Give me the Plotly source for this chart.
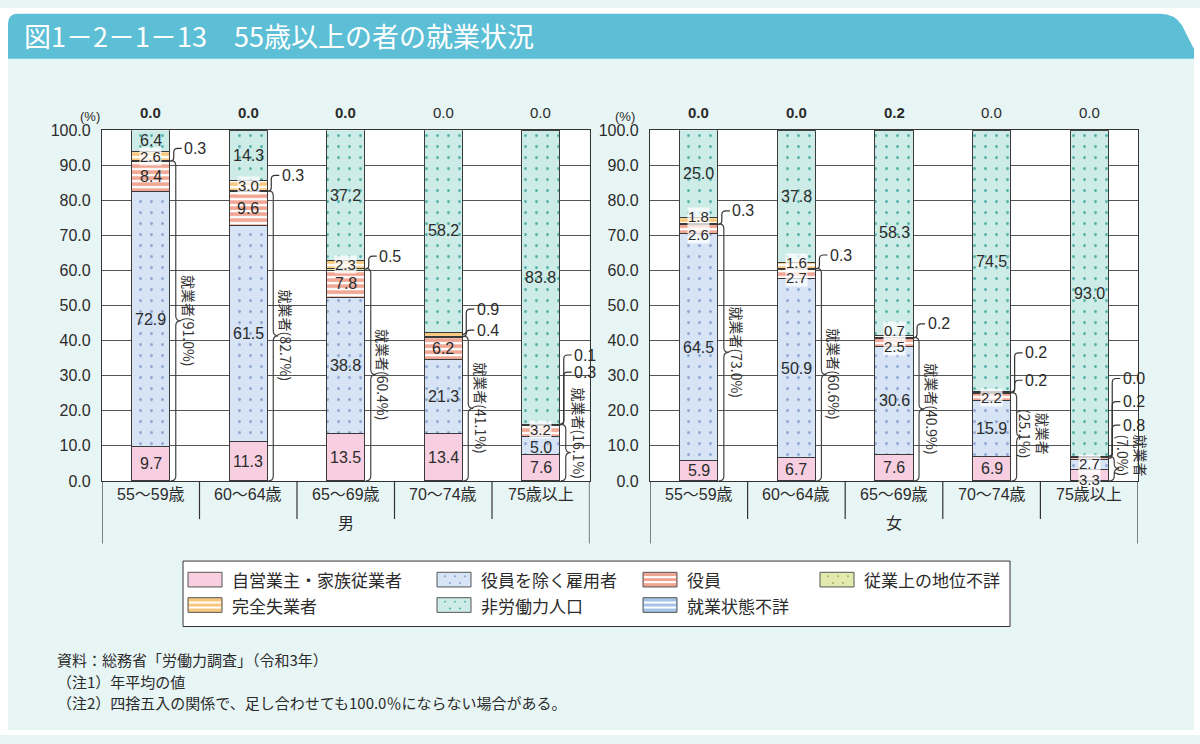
import plotly.graph_objects as go

W, H = 1200, 744

# ---------------- data ----------------
categories = ["55～59歳", "60～64歳", "65～69歳", "70～74歳", "75歳以上"]
series_names = ["自営業主・家族従業者", "役員を除く雇用者", "役員", "従業上の地位不詳",
                "完全失業者", "非労働力人口", "就業状態不詳"]

men_self_employed = [9.7, 11.3, 13.5, 13.4, 7.6]
men_employee = [72.9, 61.5, 38.8, 21.3, 5.0]
men_officer = [8.4, 9.6, 7.8, 6.2, 3.2]
men_status_unknown = [0.3, 0.3, 0.5, 0.4, 0.3]
men_unemployed = [2.6, 3.0, 2.3, 0.9, 0.1]
men_not_in_labor = [6.4, 14.3, 37.2, 58.2, 83.8]
men_labor_unknown = [0.0, 0.0, 0.0, 0.0, 0.0]
men_employed_total = [91.0, 82.7, 60.4, 41.1, 16.1]

women_self_employed = [5.9, 6.7, 7.6, 6.9, 3.3]
women_employee = [64.5, 50.9, 30.6, 15.9, 2.7]
women_officer = [2.6, 2.7, 2.5, 2.2, 0.8]
women_status_unknown = [0.3, 0.3, 0.2, 0.2, 0.2]
women_unemployed = [1.8, 1.6, 0.7, 0.2, 0.0]
women_not_in_labor = [25.0, 37.8, 58.3, 74.5, 93.0]
women_labor_unknown = [0.0, 0.0, 0.2, 0.0, 0.0]
women_employed_total = [73.0, 60.6, 40.9, 25.1, 7.0]

y_ticks = [0, 10, 20, 30, 40, 50, 60, 70, 80, 90, 100]

men = [men_self_employed, men_employee, men_officer, men_status_unknown,
       men_unemployed, men_not_in_labor, men_labor_unknown]
women = [women_self_employed, women_employee, women_officer, women_status_unknown,
         women_unemployed, women_not_in_labor, women_labor_unknown]

# ---------------- styles / layout placement ----------------
series_style = [
    dict(color="#f7cfe0", shape="", fg=None, size=8, sol=0.1),
    dict(color="#d6e4f5", shape=".", fg="#8aa3d1", size=11, sol=0.05),
    dict(color="#f0a492", shape="-", fg="#ffffff", size=6, sol=0.4),
    dict(color="#e3eab0", shape=".", fg="#a3b35a", size=11, sol=0.05),
    dict(color="#f7c77e", shape="-", fg="#ffffff", size=6, sol=0.4),
    dict(color="#cdebe7", shape=".", fg="#4fb0a6", size=11, sol=0.05),
    dict(color="#a6c4e8", shape="-", fg="#ffffff", size=6, sol=0.4),
]

FONT = "Liberation Sans, Noto Sans CJK JP, sans-serif"
JFONT = "Noto Sans CJK JP, sans-serif"
TXT = "#2b2b2b"
LINE = "#3a3a3a"

PLOT_TOP, PLOT_BOT = 125, 484
BAR_W = 0.39

outside_label_y = [
    {(0, 3): 94.8, (1, 3): 87.1, (2, 3): 64.1, (3, 3): 43.0, (3, 4): 49.0,
     (4, 3): 31.0, (4, 4): 35.9},
    {(0, 3): 77.0, (1, 3): 64.4, (2, 3): 44.8, (3, 3): 28.7, (3, 4): 36.5,
     (4, 2): 15.9, (4, 3): 22.6, (4, 4): 29.2},
]
inside_shift = [{(4, 2): 2, (4, 1): -2},
                {(2, 2): -4, (2, 4): 6, (0, 2): -5, (0, 4): 4,
                 (1, 2): -3, (1, 4): 3, (4, 0): -4, (4, 1): 1}]
brace_two_line = [{}, {3: 13.5, 4: 7.2}]

panels = [
    dict(data=men, totals=men_employed_total, sex="男", x0=102, x1=589.5,
         xa="x", ya="y", pct_x=78),
    dict(data=women, totals=women_employed_total, sex="女", x0=650, x1=1138,
         xa="x2", ya="y2", pct_x=625),
]


def px(x):
    return x / W


def py(y):
    return 1 - y / H


fig = go.Figure()
annotations = []
shapes = []

# background pieces (paper is mint)
for (a, b, c, d) in [(0, 0, W, 52), (0, 0, 8, H), (1194, 0, W, H), (0, 739, W, H)]:
    shapes.append(dict(type="rect", xref="paper", yref="paper", x0=px(a), x1=px(c),
                       y0=py(d), y1=py(b), fillcolor="white", line=dict(width=0), layer="below"))

# title bar
pts = "M {},{} L {},{} Q {},{} {},{} L {},{} Q {},{} {},{} L {},{} L {},{} Z".format(
    px(8), py(52), px(8), py(16), px(8), py(6), px(18), py(6),
    px(1160), py(6), px(1175), py(6), px(1182), py(18),
    px(1194), py(42), px(1194), py(52))
shapes.append(dict(type="path", xref="paper", yref="paper", path=pts,
                   fillcolor="#5cbfd6", line=dict(width=0), layer="below"))
annotations.append(dict(text="図1－2－1－13　55歳以上の者の就業状況", xref="paper", yref="paper",
                        x=px(22), y=py(28), xanchor="left", yanchor="middle", showarrow=False,
                        font=dict(family=JFONT, size=27, color="white")))

layout_axes = {}
for p_i, p in enumerate(panels):
    ux = (p["x1"] - p["x0"]) / 5.0
    uy = (PLOT_BOT - PLOT_TOP) / 100.0
    xa, ya = p["xa"], p["ya"]
    xs = list(range(len(categories)))

    for s_i, vals in enumerate(p["data"]):
        st = series_style[s_i]
        marker = dict(color=st["color"], line=dict(color=LINE, width=1))
        if st["shape"]:
            marker["pattern"] = dict(shape=st["shape"], fgcolor=st["fg"], bgcolor=st["color"],
                                     size=st["size"], solidity=st["sol"], fillmode="replace")
        fig.add_trace(go.Bar(x=xs, y=vals, width=BAR_W, marker=marker, xaxis=xa, yaxis=ya,
                             name=series_names[s_i], showlegend=False, hoverinfo="skip"))

    for i in xs:
        xr = i + BAR_W / 2
        cum = 0.0
        for s_i, vals in enumerate(p["data"]):
            v = vals[i]
            center = cum + v / 2
            key = (i, s_i)
            if s_i == 6:
                txt = f"{v:.1f}"
                if i < 3:
                    txt = f"<b>{txt}</b>"
                annotations.append(dict(text=txt, x=i, y=100, xref=xa, yref=ya, yanchor="bottom",
                                        yshift=7, showarrow=False,
                                        font=dict(family=FONT, size=15, color=TXT)))
            elif key in outside_label_y[p_i]:
                yL = outside_label_y[p_i][key]
                xv = xr + 4 / ux
                r = min(4 / uy, abs(yL - center) / 2)
                path = (f"M {xr},{center} Q {xv},{center} {xv},{center + r} "
                        f"L {xv},{yL - r} Q {xv},{yL} {xv + 4 / ux},{yL} L {xr + 12 / ux},{yL}")
                shapes.append(dict(type="path", xref=xa, yref=ya, path=path,
                                   line=dict(color="#333", width=1.2)))
                annotations.append(dict(text=f"{v:.1f}", x=xr + 12.5 / ux, y=yL, xref=xa, yref=ya,
                                        xanchor="left", yanchor="middle", showarrow=False,
                                        font=dict(family=FONT, size=16, color=TXT)))
            elif v > 0:
                small = v < 4
                a = dict(text=f"{v:.1f}", x=i, y=center, xref=xa, yref=ya, showarrow=False,
                         yshift=inside_shift[p_i].get(key, 0),
                         font=dict(family=FONT, size=15 if small else 16, color=TXT))
                if small:
                    a["bgcolor"] = "rgba(255,255,255,0.75)"
                    a["borderpad"] = 0
                annotations.append(a)
            cum += v

        # brace for employed persons
        top = sum(p["data"][k][i] for k in range(4))
        xb = xr + 1 / ux
        w = 5 / ux
        t = 5 / ux
        r = min(5 / uy, top / 4)
        mid = top / 2
        xw = xb + w
        bpath = (f"M {xb},{top} Q {xw},{top} {xw},{top - r} L {xw},{mid + r} "
                 f"Q {xw},{mid} {xw + t},{mid} Q {xw},{mid} {xw},{mid - r} "
                 f"L {xw},{r} Q {xw},0 {xb},0")
        shapes.append(dict(type="path", xref=xa, yref=ya, path=bpath,
                           line=dict(color="#444", width=1.2)))
        tot = p["totals"][i]
        if i in brace_two_line[p_i]:
            btxt = f"就業者<br>({tot:.1f}%)"
            by = brace_two_line[p_i][i]
            bx = xr + 24 / ux
        else:
            btxt = f"就業者({tot:.1f}%)"
            by = max(mid, 13.6)
            bx = xr + 19 / ux
        annotations.append(dict(text=btxt, x=bx, y=by, xref=xa, yref=ya, textangle=90,
                                xanchor="center", yanchor="middle", showarrow=False,
                                font=dict(family=JFONT, size=14, color="#333")))

    # category table below the plot
    for k in range(1, 5):
        shapes.append(dict(type="line", xref=xa, yref="paper", x0=k - 0.5, x1=k - 0.5,
                           y0=py(PLOT_BOT), y1=py(523), line=dict(color="#333", width=1.2)))
    for k in (-0.5, 4.5):
        shapes.append(dict(type="line", xref=xa, yref="paper", x0=k, x1=k,
                           y0=py(PLOT_BOT), y1=py(548), line=dict(color="#333", width=1.2)))
    for i, c in enumerate(categories):
        annotations.append(dict(text=c, x=i, y=py(509), xref=xa, yref="paper", showarrow=False,
                                font=dict(family=FONT, size=16, color=TXT)))
    annotations.append(dict(text=p["sex"], x=2, y=py(540), xref=xa, yref="paper", showarrow=False,
                            font=dict(family=JFONT, size=16, color=TXT)))
    annotations.append(dict(text="(%)", x=px(p["pct_x"]), y=py(101), xref="paper", yref="paper",
                            showarrow=False, font=dict(family=FONT, size=13, color=TXT)))

    xkey = "xaxis" if p_i == 0 else "xaxis2"
    ykey = "yaxis" if p_i == 0 else "yaxis2"
    layout_axes[xkey] = dict(domain=[px(p["x0"]), px(p["x1"])], range=[-0.5, 4.5],
                             showticklabels=False, showgrid=False, zeroline=False,
                             showline=True, linecolor="#333", linewidth=1.2, mirror=True,
                             ticks="", anchor=ya, fixedrange=True)
    layout_axes[ykey] = dict(domain=[py(PLOT_BOT), py(PLOT_TOP)], range=[0, 100],
                             tickvals=y_ticks, ticktext=[f"{v:.1f}" for v in y_ticks],
                             showgrid=True, gridcolor="#555", gridwidth=1,
                             showline=True, linecolor="#333", linewidth=1.2, mirror=True,
                             ticks="", zeroline=False, ticklabelstandoff=7,
                             tickfont=dict(family=FONT, size=16, color=TXT),
                             anchor=xa, fixedrange=True)

# ---------------- custom legend ----------------
shapes.append(dict(type="rect", xref="paper", yref="paper", x0=px(183), x1=px(1010),
                   y0=py(633), y1=py(566), fillcolor="white", line=dict(color="#333", width=1)))
legend_items = [(188, 585, 0), (437, 585, 1), (643, 585, 2), (820, 585, 3),
                (188, 611, 4), (437, 611, 5), (643, 611, 6)]
SW, SH = 34, 15
for (lx, ly, s_i) in legend_items:
    st = series_style[s_i]
    shapes.append(dict(type="rect", xref="paper", yref="paper", x0=px(lx), x1=px(lx + SW),
                       y0=py(ly + SH / 2), y1=py(ly - SH / 2), fillcolor=st["color"],
                       line=dict(color="#555", width=1)))
    if st["shape"] == "-":
        for f in (0.33, 0.67):
            yy = ly - SH / 2 + SH * f
            shapes.append(dict(type="line", xref="paper", yref="paper", x0=px(lx + 1),
                               x1=px(lx + SW - 1), y0=py(yy), y1=py(yy),
                               line=dict(color="white", width=2)))
    elif st["shape"] == ".":
        for (dx, dy) in [(8, -3.5), (18, -3.5), (28, -3.5), (13, 3.5), (23, 3.5)]:
            cx, cy = lx + dx, ly + dy
            shapes.append(dict(type="circle", xref="paper", yref="paper",
                               x0=px(cx - 1), x1=px(cx + 1), y0=py(cy + 1), y1=py(cy - 1),
                               fillcolor=st["fg"], line=dict(width=0)))
    annotations.append(dict(text=series_names[s_i], x=px(lx + 42), y=py(ly), xref="paper",
                            yref="paper", xanchor="left", yanchor="middle", showarrow=False,
                            font=dict(family=JFONT, size=17, color=TXT)))

# ---------------- footnotes ----------------
notes = ["資料：総務省「労働力調査」（令和3年）", "（注1）年平均の値",
         "（注2）四捨五入の関係で、足し合わせても100.0％にならない場合がある。"]
for k, n in enumerate(notes):
    annotations.append(dict(text=n, x=px(55), y=py(667 + 22 * k), xref="paper", yref="paper",
                            xanchor="left", yanchor="middle", showarrow=False,
                            font=dict(family=JFONT, size=15, color=TXT)))

fig.update_layout(
    width=W, height=H, margin=dict(l=0, r=0, t=0, b=0),
    paper_bgcolor="#e8f5f5", plot_bgcolor="white", barmode="stack",
    showlegend=False, annotations=annotations, shapes=shapes,
    font=dict(family=FONT, color=TXT),
    **layout_axes,
)

fig.write_html("out.html")
